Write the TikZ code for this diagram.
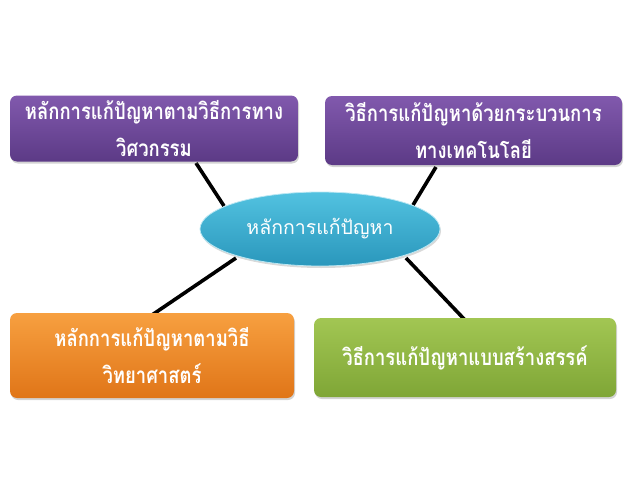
\documentclass[tikz,border=0pt]{standalone}
\usepackage{fontspec}
\newfontfamily\thaifont[Script=Thai]{Loma}
\newfontfamily\thainarrow[Script=Thai,FakeStretch=0.82]{Loma}
\usetikzlibrary{shapes.geometric,shadows}
\pgfdeclarelayer{background}
\pgfsetlayers{background,main}
\definecolor{purpT}{HTML}{8159AD}
\definecolor{purpB}{HTML}{5C3A86}
\definecolor{orT}{HTML}{F7A040}
\definecolor{orB}{HTML}{E07518}
\definecolor{grT}{HTML}{A2C653}
\definecolor{grB}{HTML}{7FA636}
\definecolor{blT}{HTML}{52C2E0}
\definecolor{blB}{HTML}{2A97BC}
\tikzset{
  topicbox/.style={rounded corners=7pt, inner sep=0pt, align=center,
    text=white, font=\thainarrow\bfseries\fontsize{22.5}{37}\selectfont,
    drop shadow={shadow xshift=1pt, shadow yshift=-2pt, opacity=0.35}},
  hub/.style={ellipse, inner sep=0pt, text=white,
    font=\thaifont\fontsize{19.5}{22}\selectfont, top color=blT, bottom color=blB,
    draw=blT!40!white, line width=0.8pt,
    drop shadow={shadow xshift=1pt, shadow yshift=-2pt, opacity=0.3}},
  link/.style={line width=3.6pt, black}
}
\begin{document}
\begin{tikzpicture}[x=1pt,y=-1pt]
\useasboundingbox (0,0) rectangle (638,479);
\node[topicbox, top color=purpT, bottom color=purpB, minimum width=288pt, minimum height=66pt]
  (eng) at (154,128.5) {หลักการแก้ปัญหาตามวิธีการทาง\\วิศวกรรม};
\node[topicbox, top color=purpT, bottom color=purpB, minimum width=297pt, minimum height=69pt]
  (tech) at (473.5,130.5) {วิธีการแก้ปัญหาด้วยกระบวนการ\\ทางเทคโนโลยี};
\node[topicbox, top color=orT, bottom color=orB, minimum width=284pt, minimum height=85pt]
  (sci) at (152,355.5) {หลักการแก้ปัญหาตามวิธี\\วิทยาศาสตร์};
\node[topicbox, top color=grT, bottom color=grB, minimum width=302pt, minimum height=79pt]
  (cre) at (465,357.5) {วิธีการแก้ปัญหาแบบสร้างสรรค์};
\node[hub, minimum width=240pt, minimum height=74pt] (hub) at (320,229) {หลักการแก้ปัญหา};
\coordinate (a1) at (196,163); \coordinate (a2) at (224,206);
\coordinate (b1) at (436,167); \coordinate (b2) at (413,205);
\coordinate (c1) at (236,258); \coordinate (c2) at (152,315);
\coordinate (d1) at (406,258); \coordinate (d2) at (465,320);
\begin{pgfonlayer}{background}
\draw[link] (a1) -- (a2);
\draw[link] (b1) -- (b2);
\draw[link] (c1) -- (c2);
\draw[link] (d1) -- (d2);
\end{pgfonlayer}
\end{tikzpicture}
\end{document}
